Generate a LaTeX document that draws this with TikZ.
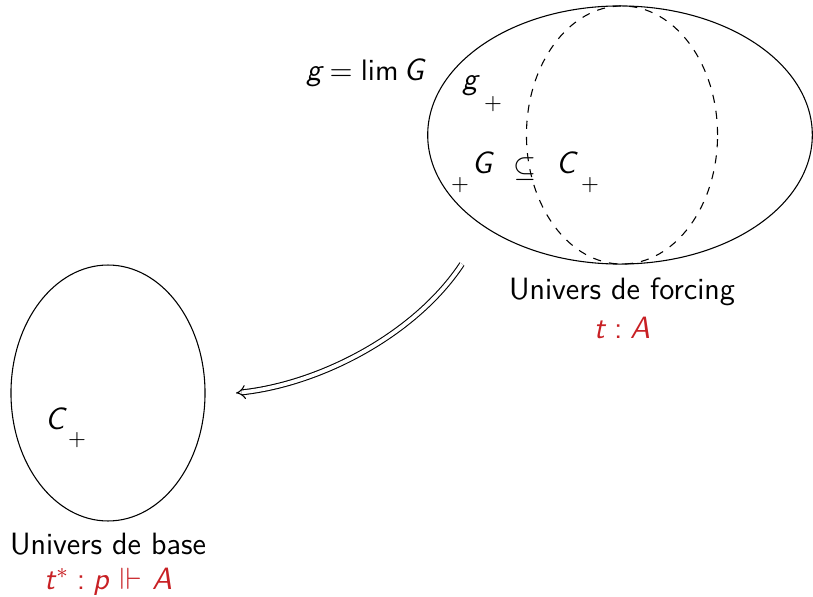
\documentclass[tikz,border=0pt]{standalone}
\usepackage{amssymb}
\usetikzlibrary{shapes.geometric,arrows.meta}
\definecolor{alert}{RGB}{200,32,36}
\newcommand{\mv}[1]{\textsl{#1}}
\begin{document}
\begin{tikzpicture}[x=0.37pt,y=-0.37pt,font=\sffamily\fontsize{11.4}{13}\selectfont,
  oval/.style={draw,ellipse,inner sep=0pt,line width=0.4pt},
  lbl/.style={inner sep=0pt,anchor=base},
  plusmark/.style={inner sep=0pt,font=\fontsize{8.5}{10}\selectfont},
  alerttext/.style={text=alert}]
\useasboundingbox (0,0) rectangle (813,597);
% ellipses
\node[oval,minimum width=142.3pt,minimum height=95.5pt] (forc) at (620,135) {};
\node[oval,dashed,minimum width=70.7pt,minimum height=95.5pt] (dash) at (622,135) {};
\node[oval,minimum width=71.8pt,minimum height=94.7pt] (base) at (108,393) {};
% texts in forcing universe
\node[lbl] (glim) at (365,81) {$\mv{g}=\mathsf{lim}\,\mv{G}$};
\node[lbl] (g) at (471,90) {\mv{g}};
\node[plusmark] (pg) at (493,104) {$+$};
\node[lbl] (G) at (483,174) {\mv{G}};
\node[plusmark] (pG) at (460,185) {$+$};
\node[lbl] (sub) at (525,177) {$\subseteq$};
\node[lbl] (C) at (567,174) {\mv{C}};
\node[plusmark] (pC) at (590,185) {$+$};
\node[lbl] (uf) at (622,300) {Univers de forcing};
\node[lbl,alerttext] (ta) at (622,338) {\mv{t}\hspace{0.25em}:\hspace{0.25em}\mv{A}};
% base universe
\node[lbl] (Cb) at (56,429) {\mv{C}};
\node[plusmark] (pCb) at (77,440) {$+$};
\node[lbl] (ub) at (108,554) {Univers de base};
\node[lbl,alerttext] (tb) at (108,589) {\mv{t}\smash{$^*$}\hspace{0.25em}:\hspace{0.25em}\mv{p} $\Vdash$ \mv{A}};
% arrow
\coordinate (as) at (462,264);
\coordinate (ae) at (236,393);
\draw[double,double distance=1.4pt,line width=0.4pt,-{Implies}] (as) .. controls (415,335) and (320,384) .. (ae);
\end{tikzpicture}
\end{document}
